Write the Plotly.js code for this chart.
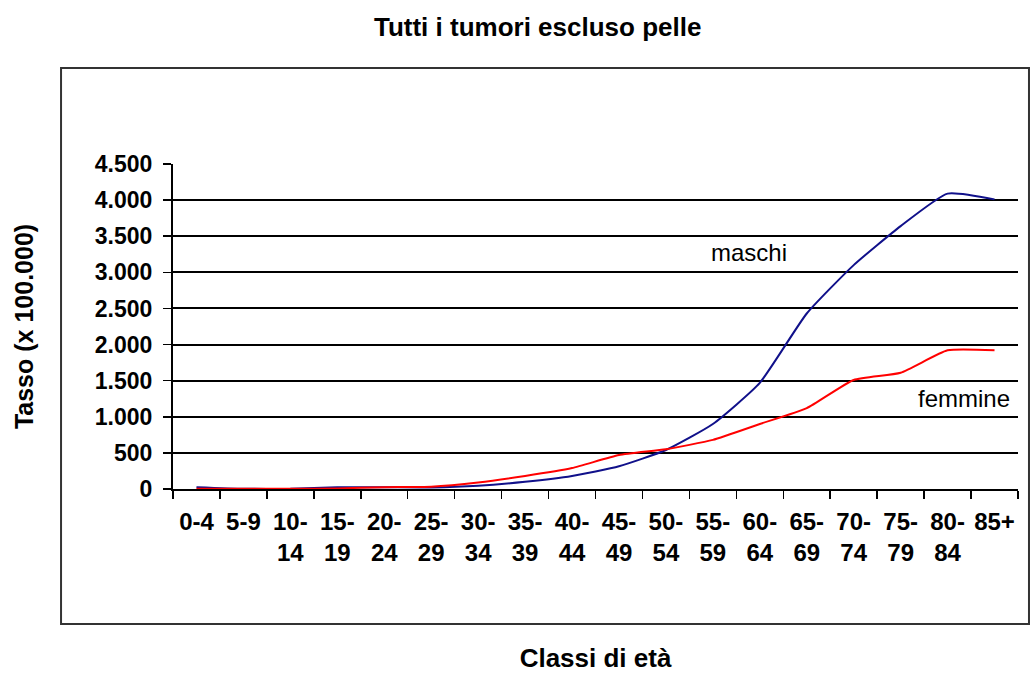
<!DOCTYPE html>
<html>
<head>
<meta charset="utf-8">
<script src="https://cdn.plot.ly/plotly-3.0.1.min.js"></script>
<style>html,body{margin:0;padding:0;background:#fff;}#chart{width:1034px;height:673px;}</style>
</head>
<body>
<div id="chart"></div>
<script>
// Age classes
const categories = ['0-4','5-9','10-14','15-19','20-24','25-29','30-34','35-39','40-44','45-49','50-54','55-59','60-64','65-69','70-74','75-79','80-84','85+'];
const tickLabels = ['0-4','5-9','10-<br>14','15-<br>19','20-<br>24','25-<br>29','30-<br>34','35-<br>39','40-<br>44','45-<br>49','50-<br>54','55-<br>59','60-<br>64','65-<br>69','70-<br>74','75-<br>79','80-<br>84','85+'];
// Rates per 100.000
const maschi  = [25, 3, 3, 25, 25, 22, 45, 100, 180, 315, 540, 900, 1470, 2430, 3100, 3640, 4090, 4010];
const femmine = [3, 3, 3, 8, 25, 32, 90, 180, 290, 470, 550, 680, 900, 1120, 1510, 1610, 1920, 1920];
const yTicks = [0, 500, 1000, 1500, 2000, 2500, 3000, 3500, 4000, 4500];

const FONT = 'Arial, "Liberation Sans", sans-serif';

const traces = [
  {x: categories, y: maschi, name: 'maschi', type: 'scatter', mode: 'lines',
   line: {color: '#10108a', width: 2, shape: 'spline', smoothing: 0.5}},
  {x: categories, y: femmine, name: 'femmine', type: 'scatter', mode: 'lines',
   line: {color: '#ff0000', width: 2, shape: 'spline', smoothing: 0.5}}
];

const layout = {
  width: 1034, height: 673,
  margin: {l: 173, r: 16, t: 164, b: 184},
  paper_bgcolor: '#ffffff', plot_bgcolor: '#ffffff',
  showlegend: false,
  separators: ',.',
  font: {family: FONT, color: '#000'},
  title: {text: 'Tutti i tumori escluso pelle', x: 0.52, xref: 'container', xanchor: 'center',
          y: 0.96, yref: 'container', yanchor: 'middle',
          font: {family: FONT, size: 26, weight: 'bold', color: '#000'}},
  xaxis: {
    type: 'category', categoryarray: categories, range: [-0.5, 17.5],
    tickmode: 'array', tickvals: categories, ticktext: tickLabels, tickangle: 0,
    tickson: 'boundaries', ticks: 'outside', ticklen: 8, tickwidth: 1.5, tickcolor: '#000',
    showgrid: false, zeroline: false,
    showline: true, linecolor: '#000', linewidth: 2,
    ticklabelstandoff: 10,
    tickfont: {family: FONT, size: 24, weight: 'bold', color: '#000'},
    title: {text: 'Classi di età', standoff: 88, font: {family: FONT, size: 26, weight: 'bold', color: '#000'}},
    fixedrange: true
  },
  yaxis: {
    range: [0, 4500], tickmode: 'array', tickvals: yTicks, tickformat: ',d',
    ticks: 'outside', ticklen: 8, tickwidth: 1.5, tickcolor: '#000',
    showgrid: true, gridcolor: '#000', gridwidth: 2,
    zeroline: false, showline: true, linecolor: '#000', linewidth: 2,
    ticklabelstandoff: 6,
    tickfont: {family: FONT, size: 23, weight: 'bold', color: '#000'},
    title: {text: 'Tasso (x 100.000)', standoff: 54, font: {family: FONT, size: 25, weight: 'bold', color: '#000'}},
    fixedrange: true
  },
  shapes: [
    {type: 'rect', xref: 'paper', yref: 'paper', x0: -0.1325, x1: 1.013, y0: -0.4154, y1: 1.2954,
     line: {color: '#333', width: 2}, fillcolor: 'rgba(0,0,0,0)', layer: 'below'}
  ],
  annotations: [
    {x: 11.76, y: 3270, xref: 'x', yref: 'y', text: 'maschi', showarrow: false,
     font: {family: FONT, size: 24, color: '#000'}},
    {x: 16.36, y: 1260, xref: 'x', yref: 'y', text: 'femmine', showarrow: false,
     font: {family: FONT, size: 24, color: '#000'}}
  ]
};

Plotly.newPlot('chart', traces, layout, {displayModeBar: false, staticPlot: true});
</script>
</body>
</html>
